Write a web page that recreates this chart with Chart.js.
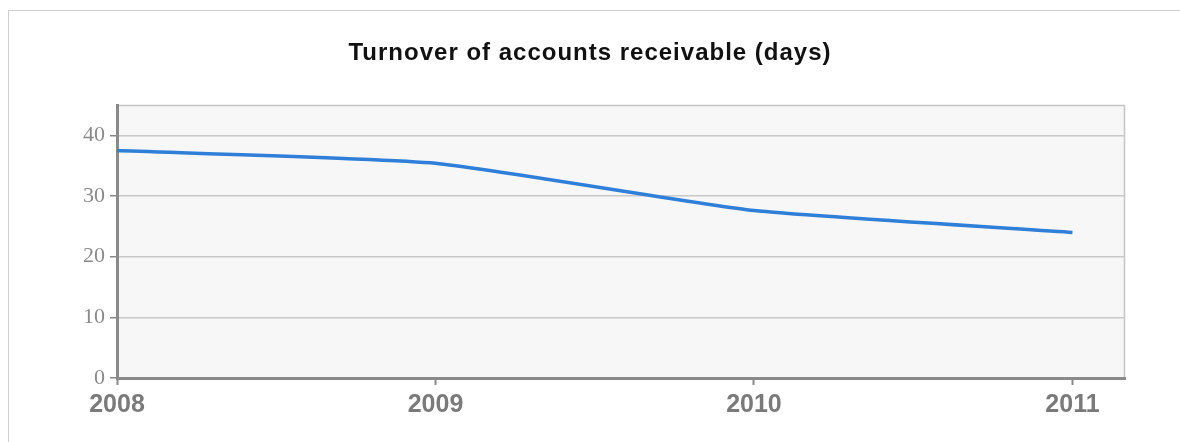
<!DOCTYPE html>
<html lang="en">
<head>
  <meta charset="UTF-8">
  <title>Turnover of accounts receivable (days)</title>
  <script src="https://cdn.jsdelivr.net/npm/chart.js"></script>
  <style>
    html, body {
      margin: 0;
      padding: 0;
      background: #fff;
      overflow: hidden;
    }
    .wrap {
      position: relative;
      width: 1180px;
      height: 442px;
    }
    .frame {
      position: absolute;
      left: 8px;
      top: 10px;
      width: 1180px;
      height: 460px;
      border: 1px solid #cfcfcf;
      pointer-events: none;
    }
    canvas {
      position: absolute;
      left: 0;
      top: 0;
    }
  </style>
</head>
<body>
  <div class="wrap">
    <div class="frame"></div>
    <canvas id="turnoverChart" width="1180" height="442"></canvas>
  </div>

  <script>
    const chartTitle = 'Turnover of accounts receivable (days)';
    const years = [2008, 2009, 2010, 2011];
    const turnoverDays = [37.5, 35.4, 27.6, 24.0];
    const yTicks = [0, 10, 20, 30, 40];

    // plot background, light top/right border and the title (centred on the frame)
    const plotFrame = {
      id: 'plotFrame',
      beforeDraw(chart) {
        const { ctx, chartArea: a } = chart;
        ctx.save();
        ctx.fillStyle = '#f7f7f7';
        ctx.fillRect(a.left, a.top, a.right - a.left, a.bottom - a.top);
        ctx.strokeStyle = '#c4c4c4';
        ctx.lineWidth = 1.5;
        ctx.beginPath();
        ctx.moveTo(a.left, a.top + 0.5);
        ctx.lineTo(a.right - 0.5, a.top + 0.5);
        ctx.lineTo(a.right - 0.5, a.bottom);
        ctx.stroke();

        ctx.fillStyle = '#111';
        ctx.font = 'bold 24px Arial, "Liberation Sans", sans-serif';
        ctx.letterSpacing = '1px';
        ctx.textAlign = 'center';
        ctx.textBaseline = 'alphabetic';
        ctx.fillText(chartTitle, chart.width / 2, 60);
        ctx.restore();
      }
    };

    const ctx = document.getElementById('turnoverChart').getContext('2d');
    new Chart(ctx, {
      type: 'line',
      data: {
        datasets: [{
          label: chartTitle,
          data: years.map((y, i) => ({ x: y, y: turnoverDays[i] })),
          borderColor: '#2f7fd8',
          borderWidth: 3.5,
          pointRadius: 0,
          fill: false,
          tension: 0.15
        }]
      },
      options: {
        responsive: false,
        animation: false,
        layout: { padding: { left: 0, right: 55, top: 105, bottom: 0 } },
        scales: {
          x: {
            type: 'linear',
            min: 2008,
            max: 2011.165,
            afterBuildTicks: axis => {
              axis.ticks = years.map(v => ({ value: v }));
            },
            afterFit: s => { s.height = 64; },
            grid: {
              drawOnChartArea: false,
              drawTicks: true,
              tickLength: 7,
              tickColor: '#888',
              tickWidth: 2
            },
            border: { color: '#8a8a8a', width: 3, dash: [4, 1] },
            ticks: {
              color: '#7a7a7a',
              padding: 5,
              font: { family: 'Arial, "Liberation Sans", sans-serif', size: 25, weight: 'bold' },
              callback: v => String(v)
            }
          },
          y: {
            min: 0,
            max: 45,
            afterBuildTicks: axis => {
              axis.ticks = yTicks.map(v => ({ value: v }));
            },
            afterFit: s => { s.width = 117; },
            grid: {
              color: '#c8c8c8',
              lineWidth: 1.5,
              tickLength: 7,
              tickColor: '#888'
            },
            border: { color: '#8a8a8a', width: 3 },
            ticks: {
              color: '#8a8a8a',
              padding: 5,
              font: { family: '"Liberation Serif", "Times New Roman", serif', size: 22 }
            }
          }
        },
        plugins: {
          legend: { display: false },
          tooltip: { enabled: false },
          title: { display: false }
        }
      },
      plugins: [plotFrame]
    });
  </script>
</body>
</html>
